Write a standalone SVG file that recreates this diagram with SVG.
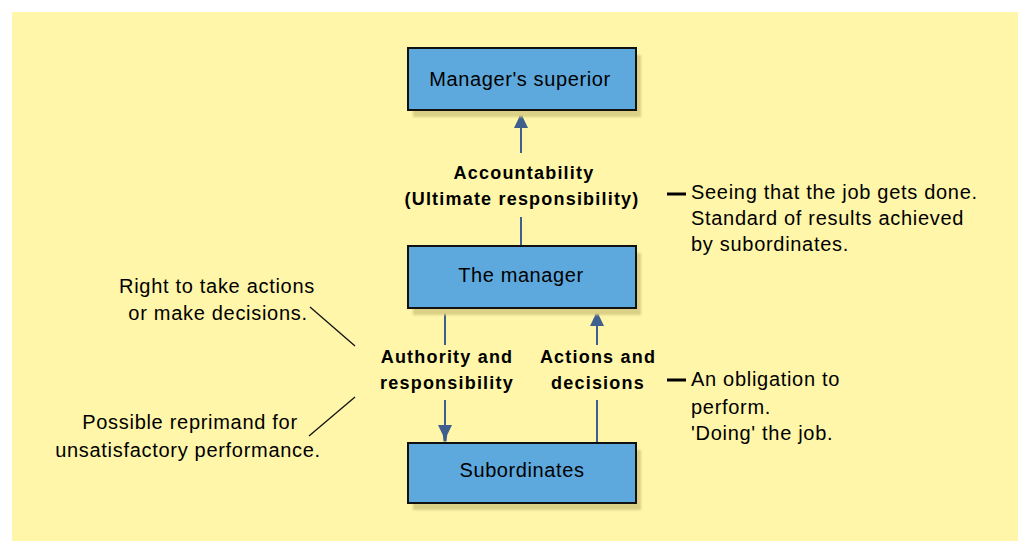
<svg xmlns="http://www.w3.org/2000/svg" width="1018" height="541" viewBox="0 0 1018 541">
  <style>
    .box { fill: #5DA9DD; stroke: #111; stroke-width: 2; }
    .shadow { fill: #DCCF86; filter: url(#soft); }
    .boxlabel { font-family: "Liberation Sans", Arial, sans-serif; font-size: 20px; letter-spacing: 0.6px; fill: #000; text-anchor: middle; }
    .bold { font-family: "Liberation Sans", Arial, sans-serif; font-size: 18px; font-weight: bold; letter-spacing: 1.2px; fill: #000; text-anchor: middle; }
    .note { font-family: "Liberation Sans", Arial, sans-serif; font-size: 20px; fill: #000; letter-spacing: 0.7px; }
    .conn { stroke: #3F5F8E; stroke-width: 2; fill: none; }
    .leader { stroke: #111; stroke-width: 1.3; fill: none; }
    .dash { stroke: #000; stroke-width: 3; }
  </style>
  <defs>
    <filter id="soft" x="-10%" y="-10%" width="120%" height="130%">
      <feGaussianBlur stdDeviation="1.2"/>
    </filter>
    <marker id="head" viewBox="-17 -8 18 16" markerWidth="18" markerHeight="16" refX="0" refY="0" orient="auto" markerUnits="userSpaceOnUse">
      <!-- flared arrowhead, tip at the origin -->
      <path d="M0.5,-1.5 L0.5,1.5 L-6,2.2 L-16,7 L-16,-7 L-6,-2.2 Z" fill="#3F5F8E"/>
    </marker>
  </defs>

  <!-- background panel -->
  <rect x="12" y="12" width="1006" height="529" fill="#FFF6A9"/>

  <!-- connectors -->
  <g id="connectors">
    <!-- accountability: manager up to superior -->
    <line class="conn" x1="521" y1="246" x2="521" y2="217"/>
    <path class="conn" d="M521,153 L521,112" marker-end="url(#head)"/>
    <!-- authority: manager down to subordinates -->
    <line class="conn" x1="445" y1="309" x2="445" y2="345"/>
    <path class="conn" d="M445,400 L445,441" marker-end="url(#head)"/>
    <!-- actions: subordinates up to manager -->
    <line class="conn" x1="597" y1="442" x2="597" y2="400"/>
    <path class="conn" d="M597,345 L597,310" marker-end="url(#head)"/>
    <!-- annotation leaders -->
    <line class="leader" x1="310" y1="307" x2="355" y2="346"/>
    <line class="leader" x1="309" y1="436" x2="355" y2="397"/>
    <line class="dash" x1="667" y1="194" x2="686" y2="194"/>
    <line class="dash" x1="667" y1="380" x2="686" y2="380"/>
  </g>

  <!-- nodes -->
  <g id="superior">
    <rect class="shadow" x="413" y="55" width="228" height="62"/>
    <rect class="box" x="408" y="48" width="228" height="62"/>
    <text class="boxlabel" x="520" y="86">Manager's superior</text>
  </g>
  <g id="manager">
    <rect class="shadow" x="413" y="253" width="228" height="62"/>
    <rect class="box" x="408" y="246" width="228" height="62"/>
    <text class="boxlabel" x="521" y="282">The manager</text>
  </g>
  <g id="subordinates">
    <rect class="shadow" x="413" y="450" width="228" height="60"/>
    <rect class="box" x="408" y="443" width="228" height="60"/>
    <text class="boxlabel" x="522" y="477">Subordinates</text>
  </g>

  <!-- connector labels -->
  <g id="labels">
    <text class="bold" x="524" y="179">Accountability</text>
    <text class="bold" x="522" y="205">(Ultimate responsibility)</text>
    <text class="bold" x="447" y="363">Authority and</text>
    <text class="bold" x="447" y="389">responsibility</text>
    <text class="bold" x="598" y="363">Actions and</text>
    <text class="bold" x="598" y="389">decisions</text>
  </g>

  <!-- annotations -->
  <g id="notes">
    <text class="note" x="217" y="293" text-anchor="middle">Right to take actions</text>
    <text class="note" x="218" y="320" text-anchor="middle">or make decisions.</text>
    <text class="note" x="190" y="429" text-anchor="middle">Possible reprimand for</text>
    <text class="note" x="188" y="457" text-anchor="middle">unsatisfactory performance.</text>
    <text class="note" x="691" y="199">Seeing that the job gets done.</text>
    <text class="note" x="691" y="225">Standard of results achieved</text>
    <text class="note" x="691" y="251">by subordinates.</text>
    <text class="note" x="691" y="386">An obligation to</text>
    <text class="note" x="691" y="414">perform.</text>
    <text class="note" x="691" y="440">'Doing' the job.</text>
  </g>
</svg>
